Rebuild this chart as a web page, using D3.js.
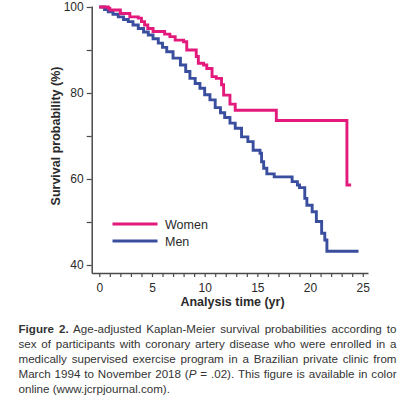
<!DOCTYPE html>
<html>
<head>
<meta charset="utf-8">
<script src="https://cdn.jsdelivr.net/npm/d3@7"></script>
<style>
  html, body { margin: 0; padding: 0; background: #fff; }
  svg { display: block; font-family: "Liberation Sans", Arial, sans-serif; }
</style>
</head>
<body>
<svg id="chart" width="419" height="398"></svg>
<script>
// ---- data ----
const womenTime = [0, 0.85, 1.0, 2.0, 2.9, 3.7, 4.0, 4.3, 4.6, 5.1, 6.2, 6.7, 7.2, 8.0, 8.3, 9.2, 9.4, 9.9, 10.2, 10.7, 11.1, 11.6, 11.8, 12.4, 12.9, 16.8, 23.5, 23.9];
const womenSurv = [100, 99.7, 99.3, 98.5, 97.7, 97.4, 96.6, 95.8, 95.0, 94.3, 93.7, 93.1, 92.3, 91.9, 90.0, 88.5, 86.9, 86.5, 85.7, 83.8, 83.4, 81.9, 79.5, 77.4, 76.0, 73.6, 58.6, 58.6];

const menTime = [0, 0.5, 0.85, 1.3, 1.8, 2.3, 2.75, 3.2, 3.7, 4.2, 4.65, 5.1, 5.6, 6.0, 6.4, 7.0, 7.7, 8.2, 8.6, 9.1, 9.55, 10.0, 10.5, 11.0, 11.5, 11.9, 12.4, 12.9, 13.5, 14.1, 14.6, 15.25, 15.4, 15.6, 15.9, 16.6, 18.3, 18.8, 19.0, 19.5, 19.7, 20.2, 20.6, 21.1, 21.4, 21.6, 24.6];
const menSurv  = [100, 99.4, 98.9, 98.3, 97.7, 97.1, 96.6, 95.8, 95.0, 94.2, 93.5, 92.6, 91.6, 90.6, 89.6, 88.1, 86.5, 85.0, 83.4, 82.2, 81.1, 79.6, 78.4, 76.6, 75.4, 74.3, 73.0, 71.8, 69.8, 68.7, 66.7, 66.0, 64.0, 62.5, 61.2, 60.5, 59.4, 58.6, 58.0, 55.5, 53.9, 52.4, 50.1, 47.4, 45.8, 43.2, 43.2];

const seriesNames = ["Women", "Men"];
const seriesColors = ["#e3197b", "#3a4e9f"];

const xTicks = d3.range(0, 26, 1);
const xTickLabels = [0, 5, 10, 15, 20, 25];
const yTicks = [40, 50, 60, 70, 80, 90, 100];
const yTickLabels = [40, 60, 80, 100];

const xTitle = "Analysis time (yr)";
const yTitle = "Survival probability (%)";

const captionLines = [
  [{t: "Figure 2.", b: true}, {t: " Age-adjusted Kaplan-Meier survival probabilities according to"}],
  [{t: "sex of participants with coronary artery disease who were enrolled in a"}],
  [{t: "medically supervised exercise program in a Brazilian private clinic from"}],
  [{t: "March 1994 to November 2018 ("}, {t: "P", i: true}, {t: " = .02). This figure is available in color"}],
  [{t: "online (www.jcrpjournal.com)."}]
];

// ---- drawing ----
const svg = d3.select("#chart");
const axisColor = "#4a4a4a";
const textColor = "#2a2a2a";

const x = d3.scaleLinear().domain([-0.72, 25.5]).range([91.7, 368]);
const y = d3.scaleLinear().domain([38.14, 100.23]).range([273, 6]);

// x axis
const xAxis = svg.append("g").attr("transform", "translate(0,273)")
  .call(d3.axisBottom(x).tickValues(xTicks).tickSize(4).tickSizeOuter(0).tickPadding(6)
    .tickFormat(d => xTickLabels.includes(d) ? d : ""));
xAxis.select(".domain").attr("stroke", axisColor).attr("stroke-width", 1.5);
xAxis.selectAll(".tick line").attr("stroke", axisColor).attr("stroke-width", 1.2);
xAxis.selectAll(".tick text").attr("fill", textColor).attr("font-size", 12).attr("font-family", "Liberation Sans, Arial, sans-serif");

// y axis
const yAxis = svg.append("g").attr("transform", "translate(91.7,0)")
  .call(d3.axisLeft(y).tickValues(yTicks).tickSize(5).tickSizeOuter(0).tickPadding(3)
    .tickFormat(d => yTickLabels.includes(d) ? d : ""));
yAxis.select(".domain").attr("stroke", axisColor).attr("stroke-width", 1.5);
yAxis.selectAll(".tick line").attr("stroke", axisColor).attr("stroke-width", 1.2);
yAxis.selectAll(".tick text").attr("fill", textColor).attr("font-size", 12).attr("font-family", "Liberation Sans, Arial, sans-serif");

// titles
svg.append("text").attr("x", 232.5).attr("y", 306).attr("text-anchor", "middle")
  .attr("font-size", 12.5).attr("font-weight", "bold").attr("fill", textColor).text(xTitle);
svg.append("text").attr("transform", "translate(59.5,136) rotate(-90)").attr("text-anchor", "middle")
  .attr("font-size", 12.5).attr("font-weight", "bold").attr("fill", textColor).text(yTitle);

// curves
const line = d3.line().x(d => x(d[0])).y(d => y(d[1])).curve(d3.curveStepAfter);
const series = [
  d3.zip(womenTime, womenSurv),
  d3.zip(menTime, menSurv)
];
[1, 0].forEach(i => {
  svg.append("path").datum(series[i]).attr("d", line)
    .attr("fill", "none").attr("stroke", seriesColors[i]).attr("stroke-width", 2.9)
    .attr("stroke-linejoin", "miter");
});

// legend
seriesNames.forEach((name, i) => {
  const ly = 224 + i * 17;
  svg.append("line").attr("x1", 112.5).attr("x2", 157.5).attr("y1", ly).attr("y2", ly)
    .attr("stroke", seriesColors[i]).attr("stroke-width", 3);
  svg.append("text").attr("x", 165).attr("y", ly + 4.5).attr("font-size", 12.5)
    .attr("fill", textColor).text(name);
});

// caption (justified with word spacing)
const capLeft = 18.5, capRight = 396.5;
captionLines.forEach((parts, i) => {
  const t = svg.append("text").attr("x", capLeft).attr("y", 332.5 + i * 15)
    .attr("font-size", 11.6).attr("fill", "#333");
  parts.forEach(p => {
    const s = t.append("tspan").text(p.t);
    if (p.b) s.attr("font-weight", "bold");
    if (p.i) s.attr("font-style", "italic");
  });
  if (i < captionLines.length - 1) {
    const natural = t.node().getComputedTextLength();
    const spaces = parts.map(p => p.t).join("").split(" ").length - 1;
    const extra = Math.max(0, (capRight - capLeft - natural) / Math.max(1, spaces));
    t.attr("word-spacing", extra);
  }
});
</script>
</body>
</html>
